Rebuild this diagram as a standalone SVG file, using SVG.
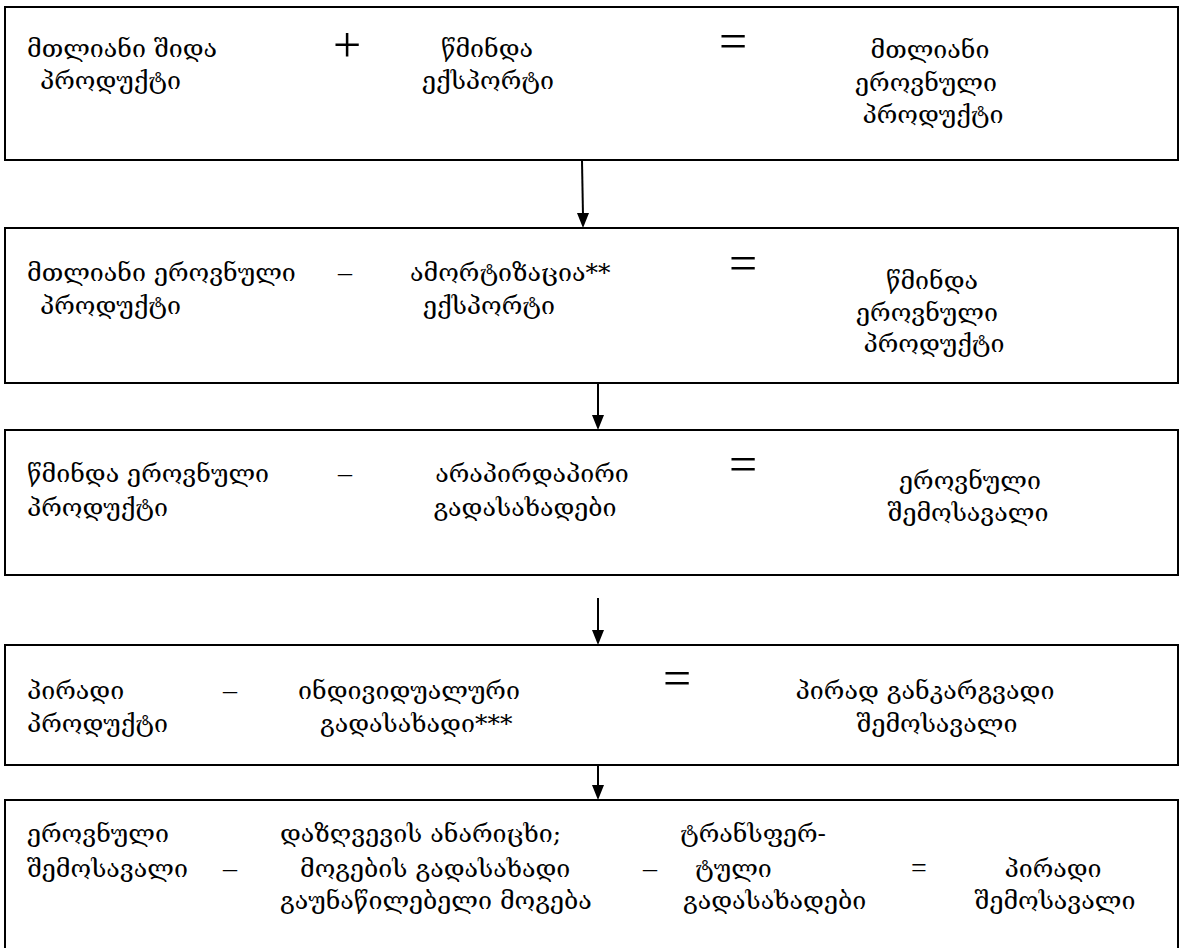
<svg xmlns="http://www.w3.org/2000/svg" width="1181" height="948" viewBox="0 0 1181 948">
<style>
.box{fill:#fff;stroke:#000;stroke-width:2}
.t{font-family:"DejaVu Serif","DejaVu Sans","Liberation Serif",serif;font-size:25px;fill:#000}
.op{font-family:"Liberation Serif",serif;font-size:50px;fill:#000}
.op2{font-family:"Liberation Serif",serif;font-size:28px;fill:#000}
.c{text-anchor:middle}
.conn{stroke:#000;stroke-width:2;fill:none}
.head{fill:#000}
</style>
<rect width="1181" height="948" fill="#fff"/>
<g id="connectors">
<line class="conn" x1="582" y1="161" x2="583" y2="216"/>
<path class="head" d="M577,213 L589,213 L583,228 Z"/>
<line class="conn" x1="598" y1="384" x2="598" y2="418"/>
<path class="head" d="M592,415 L604,415 L598,430 Z"/>
<line class="conn" x1="598" y1="598" x2="598" y2="633"/>
<path class="head" d="M592,630 L604,630 L598,645 Z"/>
<line class="conn" x1="598" y1="766" x2="598" y2="789"/>
<path class="head" d="M592,785 L604,785 L598,800 Z"/>
</g>
<g id="node1">
<rect class="box" x="5" y="7" width="1173" height="153"/>
<text class="t" x="27" y="57">მთლიანი შიდა</text>
<text class="t" x="40" y="89">პროდუქტი</text>
<text class="op c" x="347" y="62">+</text>
<text class="t c" x="487" y="57">წმინდა</text>
<text class="t c" x="488" y="89">ექსპორტი</text>
<text class="op c" x="733" y="58">=</text>
<text class="t c" x="930" y="58">მთლიანი</text>
<text class="t c" x="926" y="91">ეროვნული</text>
<text class="t c" x="933" y="123">პროდუქტი</text>
</g>
<g id="node2">
<rect class="box" x="5" y="228" width="1173" height="155"/>
<text class="t" x="27" y="281">მთლიანი ეროვნული</text>
<text class="t" x="40" y="314">პროდუქტი</text>
<text class="op2 c" x="345" y="281">–</text>
<text class="t" x="410" y="281">ამორტიზაცია**</text>
<text class="t c" x="489" y="314">ექსპორტი</text>
<text class="op c" x="743" y="280">=</text>
<text class="t c" x="932" y="289">წმინდა</text>
<text class="t c" x="927" y="321">ეროვნული</text>
<text class="t c" x="934" y="352">პროდუქტი</text>
</g>
<g id="node3">
<rect class="box" x="5" y="430" width="1173" height="145"/>
<text class="t" x="27" y="482">წმინდა ეროვნული</text>
<text class="t" x="27" y="516">პროდუქტი</text>
<text class="op2 c" x="345" y="482">–</text>
<text class="t c" x="532" y="482">არაპირდაპირი</text>
<text class="t c" x="525" y="516">გადასახადები</text>
<text class="op c" x="743" y="481">=</text>
<text class="t c" x="970" y="489">ეროვნული</text>
<text class="t c" x="968" y="521">შემოსავალი</text>
</g>
<g id="node4">
<rect class="box" x="5" y="645" width="1173" height="120"/>
<text class="t" x="27" y="699">პირადი</text>
<text class="t" x="27" y="732">პროდუქტი</text>
<text class="op2 c" x="230" y="699">–</text>
<text class="t c" x="409" y="699">ინდივიდუალური</text>
<text class="t" x="320" y="732">გადასახადი***</text>
<text class="op c" x="677" y="695">=</text>
<text class="t c" x="925" y="699">პირად განკარგვადი</text>
<text class="t c" x="937" y="732">შემოსავალი</text>
</g>
<g id="node5">
<rect class="box" x="5" y="800" width="1173" height="160"/>
<text class="t" x="27" y="842">ეროვნული</text>
<text class="t" x="27" y="877">შემოსავალი</text>
<text class="op2 c" x="230" y="877">–</text>
<text class="t" x="280" y="842">დაზღვევის ანარიცხი;</text>
<text class="t" x="300" y="877">მოგების გადასახადი</text>
<text class="t" x="280" y="909">გაუნაწილებელი მოგება</text>
<text class="op2 c" x="650" y="877">–</text>
<text class="t" x="680" y="842">ტრანსფერ-</text>
<text class="t" x="695" y="877">ტული</text>
<text class="t" x="683" y="909">გადასახადები</text>
<text class="op2 c" x="919" y="877">=</text>
<text class="t c" x="1053" y="877">პირადი</text>
<text class="t c" x="1055" y="909">შემოსავალი</text>
</g>
</svg>
